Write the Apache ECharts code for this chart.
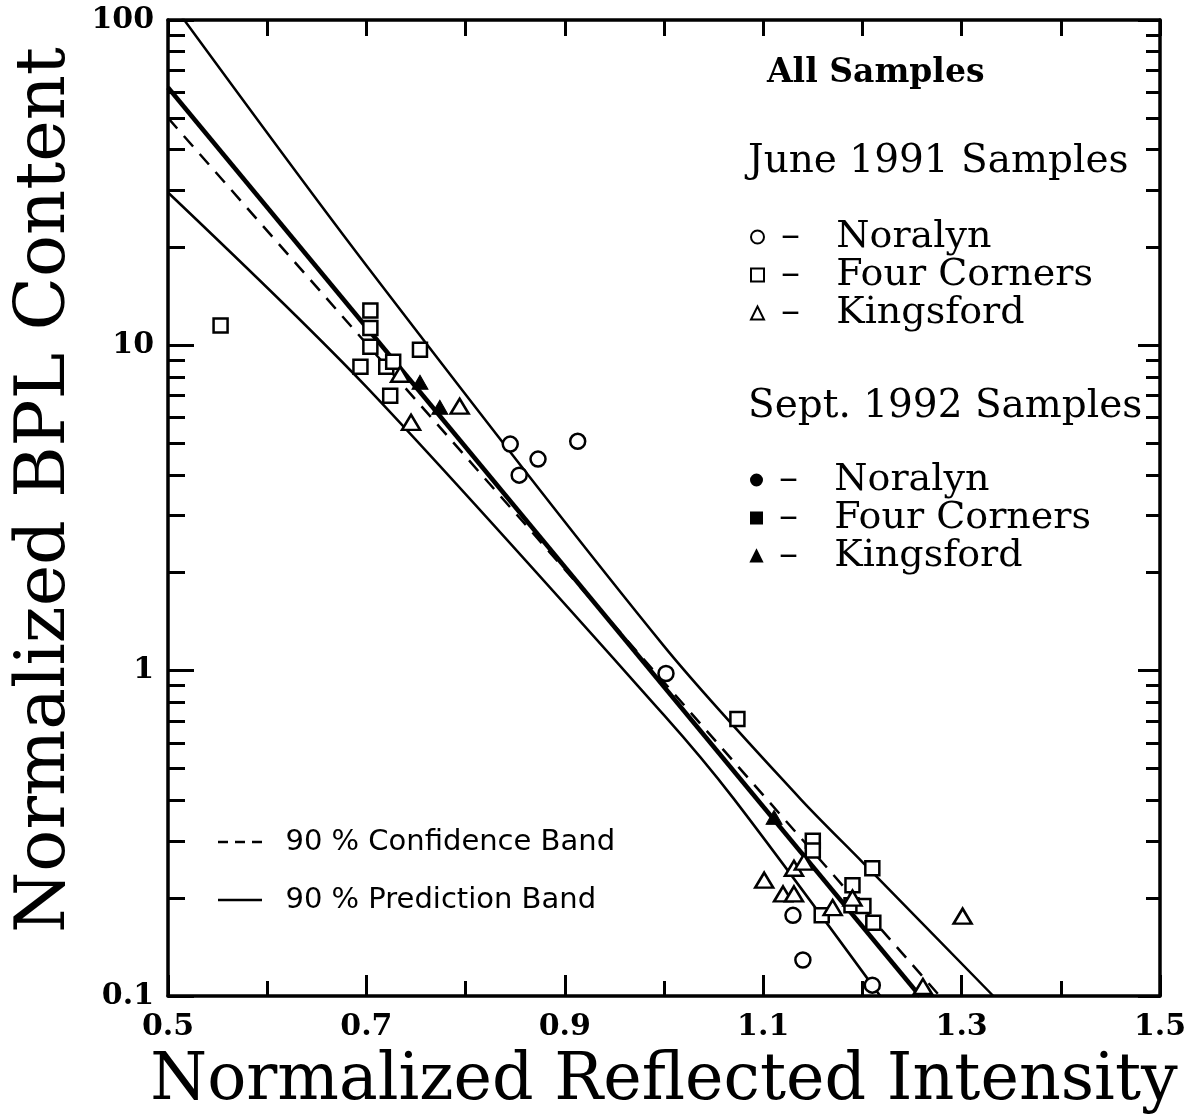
<!DOCTYPE html>
<html>
<head>
<meta charset="utf-8">
<script src="https://cdn.jsdelivr.net/npm/echarts@6.0.0/dist/echarts.min.js"></script>
<style>
  html, body { margin: 0; padding: 0; background: #fff; }
  #chart { width: 1197px; height: 1120px; }
</style>
</head>
<body>
<div id="chart"></div>
<script>
// ---- axis ticks ----
const xMajorTicks = [0.5, 0.7, 0.9, 1.1, 1.3, 1.5];
const xMinorTicks = [0.6, 0.8, 1.0, 1.2, 1.4];
const yMajorTicks = [0.1, 1, 10, 100];
const yMinorTicks = [0.2, 0.3, 0.4, 0.5, 0.6, 0.7, 0.8, 0.9,
                     2, 3, 4, 5, 6, 7, 8, 9,
                     20, 30, 40, 50, 60, 70, 80, 90];

// ---- samples: [normalized reflected intensity, normalized BPL content] ----
const juneNoralyn = [
  [0.845, 4.97], [0.854, 3.99], [0.873, 4.47], [0.913, 5.07],
  [1.002, 0.98], [1.130, 0.177], [1.140, 0.129], [1.210, 0.108]
];
const juneFourCorners = [
  [0.553, 11.5], [0.694, 8.6], [0.704, 12.8], [0.704, 11.3], [0.704, 9.9],
  [0.720, 8.6], [0.727, 8.9], [0.724, 7.0], [0.754, 9.7], [1.074, 0.71],
  [1.150, 0.30], [1.150, 0.28], [1.159, 0.177], [1.190, 0.219], [1.189, 0.19],
  [1.201, 0.189], [1.210, 0.247], [1.211, 0.168]
];
const juneKingsford = [
  [0.734, 8.15], [0.745, 5.8], [0.794, 6.5], [1.101, 0.227], [1.120, 0.206],
  [1.131, 0.206], [1.131, 0.247], [1.141, 0.258], [1.170, 0.187], [1.190, 0.200],
  [1.261, 0.107], [1.301, 0.176]
];
const septNoralyn = [];
const septFourCorners = [];
const septKingsford = [[0.754, 7.7], [0.774, 6.45], [1.111, 0.354]];

// ---- fitted line and bands ----
const regressionLine = [[0.5, 62], [1.258, 0.1]];
const confidenceBand = [[0.5, 50], [1.278, 0.1]];
const predictionUpper = [[0.5, 117], [0.7, 17.6], [1.0, 1.19], [1.137, 0.405], [1.2, 0.258], [1.332, 0.1]];
const predictionLower = [[0.5, 29.5], [0.7, 7.45], [1.0, 0.73], [1.07, 0.405], [1.218, 0.1]];

const SERIF = "'DejaVu Serif', serif";
const SANS = "'DejaVu Sans', sans-serif";
const INK = '#000';

const openMarker = { color: '#fff', borderColor: INK, borderWidth: 2.5, opacity: 1 };
const filledMarker = { color: INK, borderColor: INK, borderWidth: 1, opacity: 1 };

const JUNE = ' (June 1991)';
const SEPT = ' (Sept. 1992)';
const siteLabel = n => ' \u2013   ' + n.replace(JUNE, '').replace(SEPT, '');

// legend keys for the band lines: three short dashes, one solid stroke
const DASH_KEY = 'path://M0,0h10v2.6h-10zM17,0h10v2.6h-10zM34,0h10v2.6h-10z';
const SOLID_KEY = 'path://M0,0h44v2.6h-44z';

function xAxisBase(extra) {
  return Object.assign({
    type: 'value', min: 0.5, max: 1.5, gridIndex: 0,
    splitLine: { show: false },
    axisLine: { show: false },
    axisLabel: { show: false }
  }, extra);
}
function yAxisBase(extra) {
  return Object.assign({
    type: 'log', logBase: 10, min: 0.1, max: 100, gridIndex: 0,
    splitLine: { show: false },
    axisLine: { show: false },
    axisLabel: { show: false }
  }, extra);
}
const axisLineStyle = { show: true, onZero: false, lineStyle: { color: INK, width: 3.5 } };
const tickStyle = { color: INK, width: 3 };

const chart = echarts.init(document.getElementById('chart'), null, { renderer: 'canvas' });

chart.setOption({
  backgroundColor: '#fff',
  animation: false,
  grid: { left: 168, right: 37, top: 20, bottom: 122, containLabel: false },
  title: [
    { text: 'All Samples', left: 767, top: 57, padding: 0,
      textStyle: { fontFamily: SERIF, fontWeight: 'bold', fontSize: 33, color: INK } },
    { text: 'June 1991 Samples', left: 748, top: 142, padding: 0,
      textStyle: { fontFamily: SERIF, fontWeight: 'normal', fontSize: 39, color: INK } },
    { text: 'Sept. 1992 Samples', left: 748, top: 387, padding: 0,
      textStyle: { fontFamily: SERIF, fontWeight: 'normal', fontSize: 39, color: INK } }
  ],
  legend: [
    {
      data: ['Noralyn' + JUNE, 'Four Corners' + JUNE, 'Kingsford' + JUNE],
      orient: 'vertical', left: 750, top: 218, padding: 0,
      itemWidth: 13, itemHeight: 13, itemGap: 0, selectedMode: false,
      formatter: siteLabel,
      textStyle: { fontFamily: SERIF, fontSize: 38, lineHeight: 34, color: INK }
    },
    {
      data: ['Noralyn' + SEPT, 'Four Corners' + SEPT, 'Kingsford' + SEPT],
      orient: 'vertical', left: 750, top: 461, padding: 0,
      itemWidth: 11, itemHeight: 11, itemGap: 0, selectedMode: false,
      formatter: siteLabel,
      textStyle: { fontFamily: SERIF, fontSize: 38, lineHeight: 34, color: INK }
    },
    {
      data: [
        { name: '90 % Confidence Band', icon: DASH_KEY },
        { name: '90 % Prediction Band', icon: SOLID_KEY }
      ],
      orient: 'vertical', left: 218, top: 827, padding: 0,
      itemWidth: 44, itemHeight: 2.6, itemGap: 28, selectedMode: false,
      itemStyle: { color: INK, borderWidth: 0 },
      formatter: n => '  ' + n,
      textStyle: { fontFamily: SANS, fontSize: 29, lineHeight: 30, color: INK }
    }
  ],
  xAxis: [
    xAxisBase({
      position: 'bottom',
      axisLine: axisLineStyle,
      axisTick: { show: true, inside: true, length: 21, customValues: xMajorTicks, lineStyle: tickStyle },
      axisLabel: {
        show: true, customValues: xMajorTicks, margin: 16,
        formatter: v => Number(v).toFixed(1),
        fontFamily: SERIF, fontWeight: 'bold', fontSize: 30, color: INK
      },
      name: 'Normalized Reflected Intensity',
      nameLocation: 'middle', nameGap: 54,
      nameTextStyle: { fontFamily: SERIF, fontSize: 65, color: INK }
    }),
    xAxisBase({
      position: 'bottom',
      axisTick: { show: true, inside: true, length: 15, customValues: xMinorTicks, lineStyle: tickStyle }
    }),
    xAxisBase({
      position: 'top',
      axisLine: axisLineStyle,
      axisTick: { show: true, inside: true, length: 16, customValues: xMajorTicks.concat(xMinorTicks), lineStyle: tickStyle }
    })
  ],
  yAxis: [
    yAxisBase({
      position: 'left',
      axisLine: axisLineStyle,
      axisTick: { show: true, inside: true, length: 26, customValues: yMajorTicks, lineStyle: tickStyle },
      axisLabel: {
        show: true, customValues: yMajorTicks, margin: 14,
        formatter: v => String(+Number(v).toPrecision(3)),
        fontFamily: SERIF, fontWeight: 'bold', fontSize: 30, color: INK
      },
      name: 'Normalized BPL Content',
      nameLocation: 'middle', nameGap: 78, nameRotate: 90,
      nameTextStyle: { fontFamily: SERIF, fontSize: 70, color: INK, padding: [0, 0, 0, 36] }
    }),
    yAxisBase({
      position: 'left',
      axisTick: { show: true, inside: true, length: 17, customValues: yMinorTicks, lineStyle: tickStyle }
    }),
    yAxisBase({
      position: 'right',
      axisLine: axisLineStyle,
      axisTick: { show: true, inside: true, length: 22, customValues: yMajorTicks, lineStyle: tickStyle }
    }),
    yAxisBase({
      position: 'right',
      axisTick: { show: true, inside: true, length: 14, customValues: yMinorTicks, lineStyle: tickStyle }
    })
  ],
  series: [
    { type: 'line', name: 'Regression', data: regressionLine, symbol: 'none', clip: true,
      lineStyle: { color: INK, width: 4.5 }, silent: true, z: 3 },
    { type: 'line', name: '90 % Confidence Band', data: confidenceBand, symbol: 'none', clip: true,
      lineStyle: { color: INK, width: 2.5, type: [14, 10] }, itemStyle: { color: INK }, silent: true, z: 3 },
    { type: 'line', name: '90 % Prediction Band', data: predictionUpper, symbol: 'none', clip: true, smooth: 0.3,
      lineStyle: { color: INK, width: 2.5 }, itemStyle: { color: INK }, silent: true, z: 3 },
    { type: 'line', name: '90 % Prediction Band', data: predictionLower, symbol: 'none', clip: true, smooth: 0.3,
      lineStyle: { color: INK, width: 2.5 }, itemStyle: { color: INK }, silent: true, z: 3 },

    { type: 'scatter', name: 'Noralyn' + JUNE, data: juneNoralyn, symbol: 'circle', symbolSize: 15,
      itemStyle: openMarker, z: 4 },
    { type: 'scatter', name: 'Four Corners' + JUNE, data: juneFourCorners, symbol: 'rect', symbolSize: 14,
      itemStyle: openMarker, z: 4 },
    { type: 'scatter', name: 'Kingsford' + JUNE, data: juneKingsford, symbol: 'triangle', symbolSize: [18, 15],
      itemStyle: openMarker, z: 4 },
    { type: 'scatter', name: 'Noralyn' + SEPT, data: septNoralyn, symbol: 'circle', symbolSize: 12,
      itemStyle: filledMarker, z: 5 },
    { type: 'scatter', name: 'Four Corners' + SEPT, data: septFourCorners, symbol: 'rect', symbolSize: 12,
      itemStyle: filledMarker, z: 5 },
    { type: 'scatter', name: 'Kingsford' + SEPT, data: septKingsford, symbol: 'triangle', symbolSize: [16, 14],
      itemStyle: filledMarker, z: 5 }
  ]
});
</script>
</body>
</html>
